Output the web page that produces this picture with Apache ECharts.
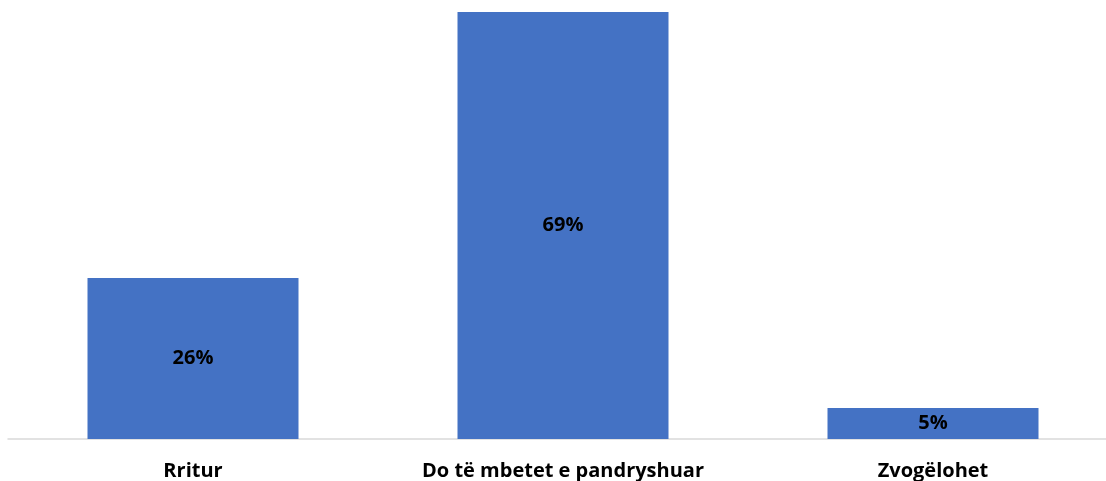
<!DOCTYPE html>
<html>
<head>
<meta charset="utf-8">
<script src="https://cdn.jsdelivr.net/npm/echarts@6/dist/echarts.min.js"></script>
<style>
html,body{margin:0;padding:0;background:#fff;overflow:hidden;width:1106px;height:481px;}
#chart{width:1118px;height:481px;}
</style>
</head>
<body>
<div id="chart"></div>
<script>
const categories = ["Rritur", "Do të mbetet e pandryshuar", "Zvogëlohet"];
const values = [26, 69, 5];

const chart = echarts.init(document.getElementById('chart'), null, {renderer: 'canvas'});
chart.setOption({
  animation: false,
  backgroundColor: '#ffffff',
  grid: {left: 8, right: 0, top: 12, bottom: 42, containLabel: false},
  xAxis: {
    type: 'category',
    data: categories,
    axisLine: {show: true, lineStyle: {color: '#d9d9d9', width: 1.5}},
    axisTick: {show: false},
    axisLabel: {
      interval: 0,
      hideOverlap: false,
      margin: 22,
      color: '#000000',
      fontSize: 20,
      fontWeight: 'bold',
      fontFamily: 'Open Sans, Liberation Sans, sans-serif'
    }
  },
  yAxis: {
    type: 'value',
    min: 0,
    max: 69,
    show: false,
    splitLine: {show: false}
  },
  series: [{
    type: 'bar',
    data: values,
    barWidth: 211,
    itemStyle: {color: '#4472c4'},
    label: {
      show: true,
      position: 'inside',
      formatter: '{c}%',
      color: '#000000',
      fontSize: 20,
      fontWeight: 'bold',
      fontFamily: 'Open Sans, Liberation Sans, sans-serif'
    }
  }]
});
</script>
</body>
</html>
